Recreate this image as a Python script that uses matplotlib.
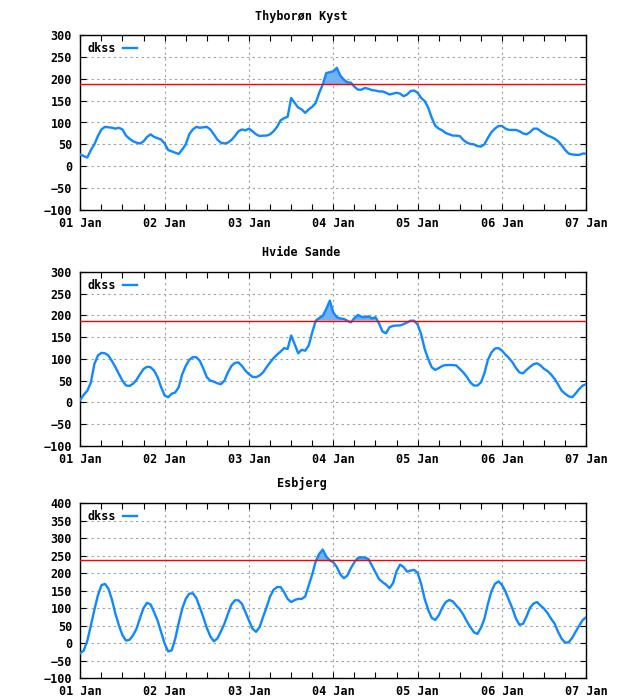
import numpy as np
import matplotlib
matplotlib.use("Agg")
import matplotlib.pyplot as plt
from matplotlib.ticker import MultipleLocator

# hourly water level (cm), 01 Jan 00:00 .. 07 Jan 00:00
thyboron = [27, 23, 20, 37, 50, 69, 84, 90, 89, 88, 86, 88, 84, 70, 63, 57, 54, 52, 57, 67,
            73, 67, 64, 61, 52, 37, 34, 31, 28, 38, 50, 73, 84, 90, 88, 89, 90, 84, 73, 61,
            54, 52, 54, 60, 69, 80, 84, 82, 86, 80, 73, 69, 70, 70, 73, 80, 90, 105, 110, 113,
            156, 145, 134, 130, 122, 130, 136, 145, 168, 187, 213, 215, 217, 225, 207, 198, 192, 191, 182, 175,
            175, 179, 177, 174, 173, 171, 171, 168, 164, 166, 168, 166, 160, 164, 172, 173, 168, 156, 149, 134,
            111, 93, 86, 82, 76, 73, 70, 70, 69, 60, 54, 51, 50, 46, 45, 50, 65, 78, 86, 92,
            92, 86, 83, 83, 83, 80, 75, 73, 78, 86, 86, 80, 75, 70, 67, 63, 57, 48, 37, 29,
            27, 26, 26, 29, 29]
hvide_sande = [6, 18, 27, 46, 88, 108, 114, 113, 108, 95, 81, 65, 50, 39, 38, 43, 52, 65, 77, 82,
               81, 73, 58, 35, 16, 12, 20, 23, 35, 65, 84, 98, 104, 104, 96, 78, 58, 50, 48, 44,
               42, 50, 69, 84, 91, 92, 84, 73, 65, 59, 58, 62, 69, 81, 92, 102, 110, 117, 125, 123,
               154, 134, 113, 121, 119, 131, 161, 188, 194, 199, 215, 234, 207, 196, 193, 192, 188, 184, 194, 201,
               197, 196, 198, 193, 196, 182, 163, 159, 173, 176, 177, 177, 180, 184, 188, 188, 179, 157, 123, 100,
               81, 75, 79, 84, 86, 86, 86, 85, 77, 69, 59, 46, 39, 39, 46, 67, 98, 115, 124, 125,
               119, 110, 102, 92, 79, 69, 67, 75, 82, 88, 90, 85, 77, 72, 64, 54, 41, 27, 20, 14,
               12, 21, 31, 39, 42]
esbjerg = [-29, -21, 7, 50, 95, 136, 165, 169, 155, 124, 83, 50, 22, 7, 9, 22, 41, 72, 100, 115,
           110, 88, 64, 31, -2, -24, -21, 12, 57, 98, 126, 141, 142, 129, 102, 74, 43, 19, 5, 13,
           33, 55, 83, 110, 122, 122, 112, 88, 64, 41, 32, 45, 74, 102, 133, 152, 160, 160, 145, 126,
           117, 123, 126, 126, 133, 164, 196, 234, 255, 267, 247, 236, 231, 217, 196, 185, 193, 214, 231, 243,
           245, 244, 240, 221, 202, 183, 174, 167, 157, 171, 205, 224, 217, 204, 207, 209, 200, 169, 126, 95,
           72, 66, 79, 101, 117, 123, 119, 107, 96, 81, 62, 45, 31, 26, 43, 69, 112, 148, 169, 176,
           166, 147, 122, 98, 69, 52, 55, 76, 101, 113, 117, 107, 98, 85, 69, 55, 31, 12, 1, 2,
           15, 33, 50, 66, 74]

stations = ["Thyborøn Kyst", "Hvide Sande", "Esbjerg"]
thresholds = [188, 188, 237]
ylims = [(-100, 300), (-100, 300), (-100, 400)]
day_labels = ["01 Jan", "02 Jan", "03 Jan", "04 Jan", "05 Jan", "06 Jan", "07 Jan"]

line_col = "#1088ff"
fill_col = "#72b2f2"
mono = "DejaVu Sans Mono"

fig = plt.figure(figsize=(6.4, 7.0), dpi=100)
boxes = [[0.1255, 0.700, 0.7906, 0.250],
         [0.1255, 0.3629, 0.7906, 0.2486],
         [0.1255, 0.0314, 0.7906, 0.250]]
title_y = [0.977, 0.640, 0.309]

hours = np.arange(len(thyboron))
for i, (vals, name) in enumerate(zip([thyboron, hvide_sande, esbjerg], stations)):
    ax = fig.add_axes(boxes[i])
    y = np.array(vals, dtype=float)
    thr = thresholds[i]
    ax.fill_between(hours, y, thr, where=y > thr, interpolate=True,
                    color=fill_col, lw=0, zorder=2)
    ax.plot(hours, y, color=line_col, lw=1.7, label="dkss", zorder=3)
    ax.axhline(thr, color="red", lw=1.0, zorder=4)

    ax.set_xlim(0, 144)
    ax.set_ylim(*ylims[i])
    ax.xaxis.set_minor_locator(MultipleLocator(6))
    ax.yaxis.set_major_locator(MultipleLocator(50))
    ax.set_xticks(np.arange(0, 145, 24))
    ax.set_xticklabels(day_labels)
    ax.grid(True, which="major", color="#a0a0a0", linestyle=(0, (2, 3)), lw=0.8)
    ax.tick_params(which="both", direction="in", top=True, right=True,
                   length=4, width=0.8, pad=6)
    ax.tick_params(axis="x", pad=5)
    for lab in ax.get_xticklabels() + ax.get_yticklabels():
        lab.set_fontfamily(mono)
        lab.set_fontweight("bold")
        lab.set_fontsize(8.5)
    for sp in ax.spines.values():
        sp.set_linewidth(1.0)

    ax.legend(loc="upper left", frameon=False, handlelength=1.2,
              handletextpad=0.6, borderaxespad=0.2, markerfirst=False,
              prop={"family": mono, "weight": "bold", "size": 8.5})

    fig.text(0.471, title_y[i], name, ha="center", va="center",
             fontfamily=mono, fontweight="bold", fontsize=8.5)

fig.savefig("out.png", dpi=100)
